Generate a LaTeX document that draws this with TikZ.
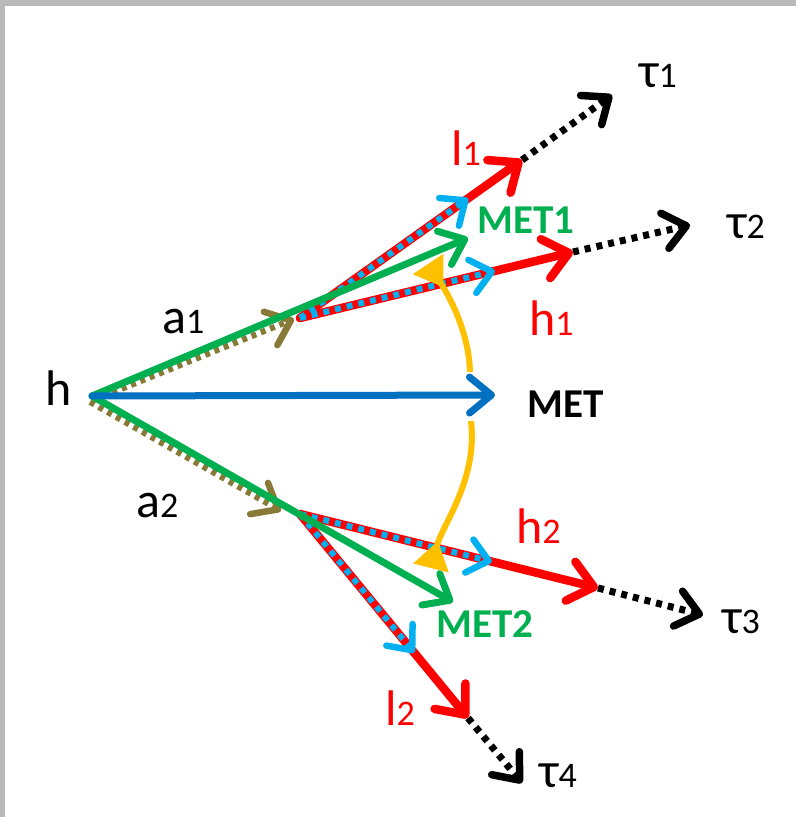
\documentclass[tikz,border=0pt]{standalone}
\usepackage{fontspec}
\setmainfont{Carlito}
\usetikzlibrary{arrows.meta, calc}
\definecolor{vred}{HTML}{FF0000}
\definecolor{vgreen}{HTML}{00B050}
\definecolor{vblue}{HTML}{0070C0}
\definecolor{vcyan}{HTML}{00B0F0}
\definecolor{volive}{HTML}{877A36}
\definecolor{vyellow}{HTML}{FFC000}
\newcommand{\idx}[1]{{\fontsize{36}{40}\selectfont #1}}

\begin{document}
\begin{tikzpicture}[
    x=1pt, y=-1pt,
    line join=round
]

\tikzstyle{big}=[inner sep=0pt, anchor=base west, font=\fontsize{50}{60}\selectfont]
\tikzstyle{metlabel}=[inner sep=0pt, anchor=base west, font=\fontsize{41}{48}\selectfont\bfseries]
\tikzstyle{daughter}=[vred, line width=8.5pt, line cap=round,
    -{Straight Barb[length=24pt, width=40pt, round, line width=8.5pt]}]
\tikzstyle{visible}=[vcyan, line width=6pt, dash pattern=on 6pt off 6pt,
    -{Straight Barb[length=20pt, width=34pt, round, line width=6.5pt]}]
\tikzstyle{tauvec}=[black, line width=7pt, dash pattern=on 6pt off 6pt,
    -{Straight Barb[length=22pt, width=36pt, round, line width=7.5pt]}]
\tikzstyle{avec}=[volive, line width=6pt, dash pattern=on 5pt off 5pt,
    -{Straight Barb[length=22pt, width=36pt, round, line width=6.5pt]}]
\tikzstyle{metvec}=[vgreen, line width=7pt, line cap=round,
    -{Straight Barb[length=22pt, width=36pt, round, line width=7pt]}]
\tikzstyle{angle}=[vyellow, line width=6pt,
    -{Triangle[reversed, length=28pt, width=35pt]}]

\useasboundingbox (0,0) rectangle (796,817);
\fill[gray!55] (0,0) rectangle (796,817);
\fill[white] (5,6) rectangle (796,817);

\coordinate (h) at (92,396);
\coordinate (A1) at (300,318);
\coordinate (A2) at (300,514);
\coordinate (a1tail) at (94,400);
\coordinate (a1tip) at (294,319);
\coordinate (a2tail) at (90,402);
\coordinate (a2tip) at (281,511);
\coordinate (L1) at (522,160);
\coordinate (H1) at (573,252);
\coordinate (H2) at (598,588);
\coordinate (L2) at (468,718);
\coordinate (T1) at (612,95);
\coordinate (T2) at (690,225);
\coordinate (T3) at (703,615);
\coordinate (T4) at (522,783);
\coordinate (MET) at (495,395);
\coordinate (MET1) at (468,238);
\coordinate (MET2) at (453,602);
\coordinate (Yt0) at (470,372);
\coordinate (Yt) at (428,264);
\coordinate (Yb0) at (471,421);
\coordinate (Yb) at (431,568);

% a1, a2
\draw[avec] (a1tail) -- (a1tip);
\draw[avec] (a2tail) -- (a2tip);

% tau directions
\draw[tauvec] (L1) -- (T1);
\draw[tauvec] (H1) -- (T2);
\draw[tauvec] (H2) -- (T3);
\draw[tauvec] (L2) -- (T4);

% leptons and hadrons
\draw[daughter] (A1) -- (L1);
\draw[daughter] (A1) -- (H1);
\draw[daughter] (A2) -- (H2);
\draw[daughter] (A2) -- (L2);

\draw[visible] (A1) -- ($(A1)!0.757!(L1)$);
\draw[visible] (A1) -- ($(A1)!0.714!(H1)$);
\draw[visible] (A2) -- ($(A2)!0.644!(H2)$);
\draw[visible] (A2) -- ($(A2)!0.68!(L2)$);

% missing energy
\draw[metvec] (h) -- (MET1);
\draw[metvec] (h) -- (MET2);
\draw[metvec, vblue] (h) -- (MET);

\draw[angle] (Yt0) .. controls (469,335) and (452,300) .. (Yt);
\draw[angle] (Yb0) .. controls (478,480) and (442,525) .. (Yb);

\node[big] (lh) at (45,405) {h};
\node[big] (la1) at (162,333) {a\idx{1}};
\node[big] (la2) at (136,517) {a\idx{2}};
\node[big, text=vred] (ll1) at (451,165) {l\idx{1}};
\node[big, text=vred] (lh1) at (529,335) {h\idx{1}};
\node[big, text=vred] (lh2) at (516,543) {h\idx{2}};
\node[big, text=vred] (ll2) at (385,725) {l\idx{2}};
\node[metlabel, text=vgreen] (lmet1) at (477,233) {MET1};
\node[metlabel, text=vgreen] (lmet2) at (436,637) {MET2};
\node[metlabel] (lmet) at (527,417) {MET};
\node[big] (lt1) at (639,87) {τ\idx{1}};
\node[big] (lt2) at (727,238) {τ\idx{2}};
\node[big] (lt3) at (722,633) {τ\idx{3}};
\node[big] (lt4) at (539,787) {τ\idx{4}};

\end{tikzpicture}
\end{document}
